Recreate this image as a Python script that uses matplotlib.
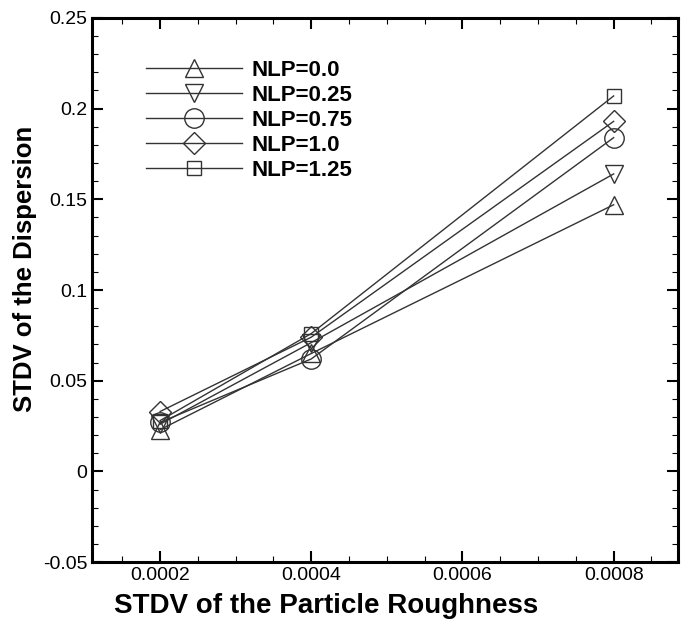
import numpy as np
import matplotlib.pyplot as plt
from matplotlib.ticker import MultipleLocator

plt.rcParams["font.family"] = ["Liberation Sans", "DejaVu Sans"]

# 数据
roughness = [0.0002, 0.0004, 0.0008]
nlp_labels = ["NLP=0.0", "NLP=0.25", "NLP=0.75", "NLP=1.0", "NLP=1.25"]
nlp_00 = [0.023, 0.065, 0.147]
nlp_025 = [0.026, 0.071, 0.164]
nlp_075 = [0.027, 0.062, 0.184]
nlp_10 = [0.033, 0.074, 0.193]
nlp_125 = [0.028, 0.076, 0.207]

series = [nlp_00, nlp_025, nlp_075, nlp_10, nlp_125]
markers = ["^", "v", "o", "D", "s"]
msizes = [13, 13, 14, 11, 10]

fig = plt.figure(figsize=(6.82, 6.19), dpi=100)
ax = fig.add_axes([0.135, 0.092, 0.859, 0.879])

for vals, mk, ms, lab in zip(series, markers, msizes, nlp_labels):
    ax.plot(roughness, vals, color="#333333", lw=1.0, marker=mk, ms=ms,
            mfc="none", mec="#333333", mew=1.0, label=lab)

ax.set_xlim(0.00011, 0.000885)
ax.set_ylim(-0.05, 0.25)
ax.xaxis.set_major_locator(MultipleLocator(0.0002))
ax.xaxis.set_minor_locator(MultipleLocator(0.00005))
ax.yaxis.set_major_locator(MultipleLocator(0.05))
ax.yaxis.set_minor_locator(MultipleLocator(0.01))
ax.set_xticks([0.0002, 0.0004, 0.0006, 0.0008])
ax.set_xticklabels(["0.0002", "0.0004", "0.0006", "0.0008"])
ax.set_yticks([-0.05, 0, 0.05, 0.1, 0.15, 0.2, 0.25])
ax.set_yticklabels(["-0.05", "0", "0.05", "0.1", "0.15", "0.2", "0.25"])

ax.tick_params(which="both", direction="in", top=True, right=True, labelsize=14)
ax.tick_params(which="major", length=8, width=1.5)
ax.tick_params(which="minor", length=4, width=0.8)
for sp in ax.spines.values():
    sp.set_linewidth(2.2)

ax.set_xlabel("STDV of the Particle Roughness", fontsize=20, fontweight="bold", va="center")
ax.xaxis.set_label_coords(0.40, -0.081)
ax.set_ylabel("STDV of the Dispersion", fontsize=18.5, fontweight="bold", va="center")
ax.yaxis.set_label_coords(-0.114, 0.539)

leg = ax.legend(loc="upper left", bbox_to_anchor=(0.058, 0.96), frameon=False,
                handlelength=4.3, handletextpad=0.45, labelspacing=0.18,
                prop={"size": 16, "weight": "bold"})

plt.savefig("out.png", dpi=100)
